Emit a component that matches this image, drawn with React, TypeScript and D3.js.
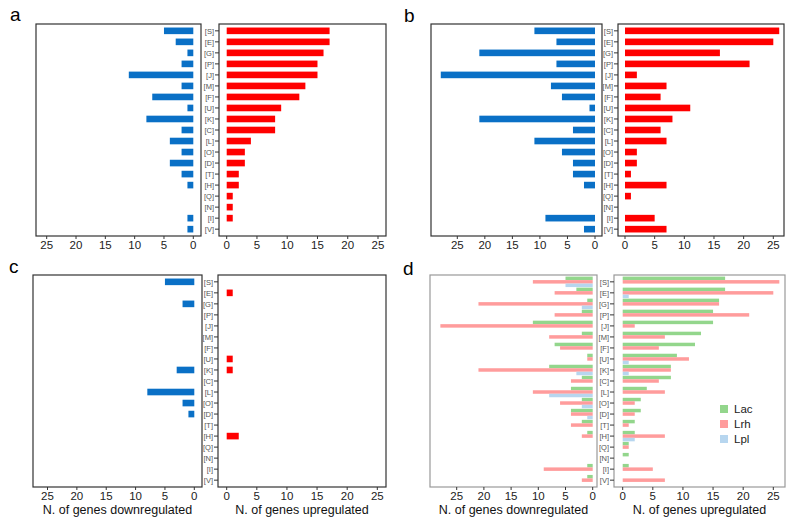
import React from "react";
import * as d3 from "d3";

const categories = ["[S]", "[E]", "[G]", "[P]", "[J]", "[M]", "[F]", "[U]", "[K]", "[C]", "[L]", "[O]", "[D]", "[T]", "[H]", "[Q]", "[N]", "[I]", "[V]"];
const lacUp = [17, 17, 16, 15, 15, 13, 12, 9, 8, 8, 4, 3, 3, 2, 2, 1, 1, 1, 0];
const lacDown = [5, 3, 1, 2, 11, 2, 7, 1, 8, 2, 4, 2, 4, 2, 1, 0, 0, 1, 1];
const lrhUp = [26, 25, 16, 21, 2, 7, 6, 11, 8, 6, 7, 2, 2, 1, 7, 1, 0, 5, 7];
const lrhDown = [11, 7, 21, 7, 28, 8, 6, 1, 21, 4, 11, 6, 4, 4, 2, 0, 0, 9, 2];
const lplUp = [0, 1, 0, 0, 0, 0, 0, 1, 1, 0, 0, 0, 0, 0, 2, 0, 0, 0, 0];
const lplDown = [5, 0, 2, 0, 0, 0, 0, 0, 3, 0, 8, 2, 1, 0, 0, 0, 0, 0, 0];
const xTicks = [0, 5, 10, 15, 20, 25];
const seriesNames = ["Lac", "Lrh", "Lpl"];
const panelLetters = ["a", "b", "c", "d"];
const downLabel = "N. of genes downregulated";
const upLabel = "N. of genes upregulated";

const FONT = "'Liberation Sans', Arial, sans-serif";
const BLUE = "#0a70c6";
const RED = "#ff0000";
const groupColors = ["#93d68c", "#ff9c9c", "#b7d6ef"];

type Layout = {
  letter: string;
  lx: [number, number];
  rx: [number, number];
  y: [number, number];
  lZero: number;
  l25: number;
  rZero: number;
  r25: number;
  letterPos: [number, number];
  axisLabels: boolean;
  border: string;
};

const layouts: Layout[] = [
  { letter: panelLetters[0], lx: [36, 201], rx: [219, 386], y: [24, 236], lZero: 193.3, l25: 46.7, rZero: 226.7, r25: 378, letterPos: [10, 21], axisLabels: false, border: "#333" },
  { letter: panelLetters[1], lx: [431, 602], rx: [618, 784], y: [24, 236], lZero: 595, l25: 457.3, rZero: 625, r25: 773.3, letterPos: [404, 22], axisLabels: false, border: "#333" },
  { letter: panelLetters[2], lx: [33, 202], rx: [218, 386], y: [275, 487], lZero: 194.3, l25: 47.5, rZero: 226.7, r25: 377.3, letterPos: [9, 273], axisLabels: true, border: "#333" },
  { letter: panelLetters[3], lx: [430, 597], rx: [614, 785], y: [275, 487], lZero: 592.7, l25: 456.7, rZero: 622.7, r25: 773.3, letterPos: [403, 275], axisLabels: true, border: "#999" },
];

type Series = { name: string; up: number[]; down: number[]; color: string };

const singleSeries: Series[][] = [
  [{ name: seriesNames[0], up: lacUp, down: lacDown, color: "" }],
  [{ name: seriesNames[1], up: lrhUp, down: lrhDown, color: "" }],
  [{ name: seriesNames[2], up: lplUp, down: lplDown, color: "" }],
  [
    { name: seriesNames[0], up: lacUp, down: lacDown, color: groupColors[0] },
    { name: seriesNames[1], up: lrhUp, down: lrhDown, color: groupColors[1] },
    { name: seriesNames[2], up: lplUp, down: lplDown, color: groupColors[2] },
  ],
];

function Panel({ L, series }: { L: Layout; series: Series[] }) {
  const yScale = d3.scalePoint<string>().domain(categories).range(L.y).padding(0.62);
  const step = yScale.step();
  const xl = d3.scaleLinear().domain([0, 25]).range([L.lZero, L.l25]);
  const xr = d3.scaleLinear().domain([0, 25]).range([L.rZero, L.r25]);
  const grouped = series.length > 1;
  const sub = d3
    .scaleBand<string>()
    .domain(series.map((s) => s.name))
    .range([-step * 0.475, step * 0.475])
    .padding(0);
  const barH = grouped ? sub.bandwidth() : step * 0.6;
  const off = (name: string) => (grouped ? (sub(name) as number) : -barH / 2);
  const [y0, y1] = L.y;

  return (
    <g>
      <text x={L.letterPos[0]} y={L.letterPos[1]} fontSize={19} fontFamily={FONT} fill="#000">
        {L.letter}
      </text>
      {series.map((s) =>
        categories.map((c, i) => {
          const cy = (yScale(c) as number) + off(s.name);
          return (
            <g key={s.name + c}>
              {s.down[i] > 0 && (
                <rect x={xl(s.down[i])} y={cy} width={xl(0) - xl(s.down[i])} height={barH} fill={grouped ? s.color : BLUE} />
              )}
              {s.up[i] > 0 && (
                <rect x={xr(0)} y={cy} width={xr(s.up[i]) - xr(0)} height={barH} fill={grouped ? s.color : RED} />
              )}
            </g>
          );
        })
      )}
      <rect x={L.lx[0]} y={y0} width={L.lx[1] - L.lx[0]} height={y1 - y0} fill="none" stroke={L.border} strokeWidth={1.2} />
      <rect x={L.rx[0]} y={y0} width={L.rx[1] - L.rx[0]} height={y1 - y0} fill="none" stroke={L.border} strokeWidth={1.2} />
      {categories.map((c) => (
        <g key={c}>
          <line x1={L.rx[0] - 4} x2={L.rx[0]} y1={yScale(c)} y2={yScale(c)} stroke="#333" strokeWidth={1} />
          <text x={L.rx[0] - 5} y={(yScale(c) as number) + 2.7} fontSize={7.5} fontFamily={FONT} fill="#555" textAnchor="end">
            {c}
          </text>
        </g>
      ))}
      {xTicks.map((t) => (
        <g key={"t" + t}>
          <line x1={xl(t)} x2={xl(t)} y1={y1} y2={y1 + 3} stroke="#333" />
          <text x={xl(t)} y={y1 + 13.3} fontSize={11.5} fontFamily={FONT} fill="#222" textAnchor="middle">
            {t}
          </text>
          <line x1={xr(t)} x2={xr(t)} y1={y1} y2={y1 + 3} stroke="#333" />
          <text x={xr(t)} y={y1 + 13.3} fontSize={11.5} fontFamily={FONT} fill="#222" textAnchor="middle">
            {t}
          </text>
        </g>
      ))}
      {L.axisLabels && (
        <>
          <text x={(L.lx[0] + L.lx[1]) / 2} y={y1 + 26.5} fontSize={12.5} fontFamily={FONT} fill="#111" textAnchor="middle">
            {downLabel}
          </text>
          <text x={(L.rx[0] + L.rx[1]) / 2} y={y1 + 26.5} fontSize={12.5} fontFamily={FONT} fill="#111" textAnchor="middle">
            {upLabel}
          </text>
        </>
      )}
      {grouped &&
        series.map((s, i) => (
          <g key={"lg" + s.name}>
            <rect x={720} y={405 + i * 15} width={8} height={8} fill={s.color} />
            <text x={734} y={413 + i * 15} fontSize={11.5} fontFamily={FONT} fill="#222">
              {s.name}
            </text>
          </g>
        ))}
    </g>
  );
}

export default function App() {
  return (
    <svg width={795} height={524} style={{ position: "absolute", left: 0, top: 0, background: "#fff" }}>
      <rect width={795} height={524} fill="#fff" />
      {layouts.map((L, i) => (
        <Panel key={L.letter} L={L} series={singleSeries[i]} />
      ))}
    </svg>
  );
}
